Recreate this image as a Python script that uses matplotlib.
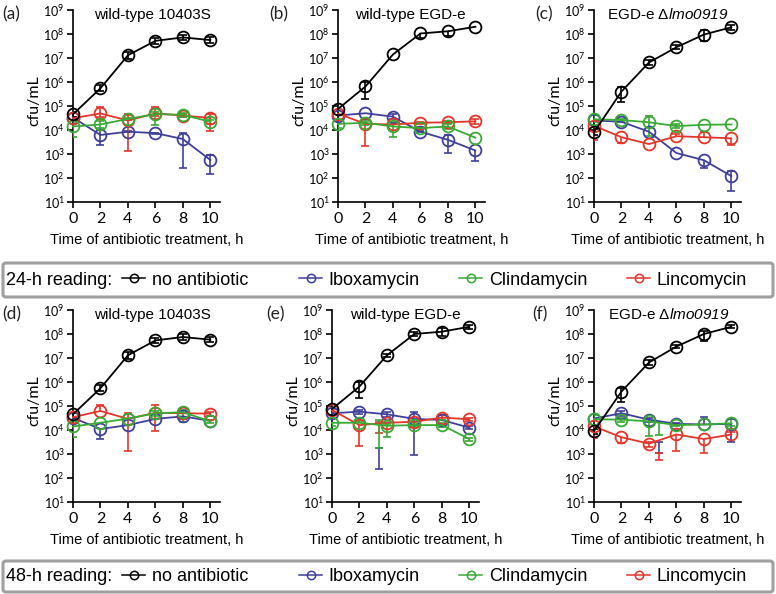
import matplotlib
matplotlib.use('Agg')
import matplotlib.pyplot as plt
from matplotlib.lines import Line2D
from matplotlib.patches import FancyBboxPatch
import numpy as np

plt.rcParams['mathtext.fontset'] = 'custom'
plt.rcParams['mathtext.rm'] = 'Liberation Sans'
plt.rcParams['mathtext.sf'] = 'Liberation Sans:italic'

hours = [0, 2, 4, 6, 8, 10]
strains = ['wild-type 10403S', 'wild-type EGD-e', 'EGD-e Δ$\\mathsf{lmo0919}$']
drugs = ['no antibiotic', 'Iboxamycin', 'Clindamycin', 'Lincomycin']
readings = ['24-h reading:', '48-h reading:']

# ---- 24-h, wild-type 10403S (a)
a_none = [4.5e4, 5.5e5, 1.3e7, 5.2e7, 7.2e7, 5.6e7]
a_none_lo = [3.5e4, 4.2e5, 9.5e6, 4.0e7, 5.5e7, 4.3e7]
a_none_hi = [5.8e4, 7.2e5, 1.7e7, 6.8e7, 9.4e7, 7.3e7]
a_ibox = [3.3e4, 6.2e3, 8.5e3, 7.4e3, 4.2e3, 5.6e2]
a_ibox_lo = [3.0e4, 2.3e3, 8.0e3, 7.0e3, 2.7e2, 1.5e2]
a_ibox_hi = [3.6e4, 1.0e4, 9.0e3, 7.8e3, 7.8e3, 9.0e2]
a_clin = [1.4e4, 1.7e4, 2.9e4, 4.6e4, 4.3e4, 2.2e4]
a_clin_lo = [5.0e3, 1.2e4, 2.6e4, 1.6e4, 3.5e4, 1.8e4]
a_clin_hi = [1.9e4, 2.4e4, 3.2e4, 5.6e4, 5.2e4, 2.6e4]
a_linc = [3.1e4, 4.9e4, 2.5e4, 4.9e4, 4.0e4, 3.2e4]
a_linc_lo = [2.6e4, 3.5e4, 1.3e3, 3.8e4, 3.5e4, 9.5e3]
a_linc_hi = [3.6e4, 9.3e4, 4.5e4, 9.0e4, 4.6e4, 4.6e4]

# ---- 24-h, wild-type EGD-e (b)
b_none = [7.5e4, 6.5e5, 1.4e7, 1.05e8, 1.3e8, 2.0e8]
b_none_lo = [7.5e4, 2.0e5, 1.4e7, 7.0e7, 8.0e7, 2.0e8]
b_none_hi = [7.5e4, 1.0e6, 1.4e7, 1.05e8, 1.3e8, 2.0e8]
b_ibox = [4.0e4, 5.0e4, 3.6e4, 8.5e3, 3.9e3, 1.4e3]
b_ibox_lo = [4.0e4, 5.0e4, 3.0e4, 8.0e3, 1.1e3, 5.0e2]
b_ibox_hi = [4.0e4, 5.0e4, 4.6e4, 9.0e3, 6.2e3, 1.4e3]
b_clin = [1.8e4, 2.0e4, 1.4e4, 1.2e4, 1.4e4, 4.8e3]
b_clin_lo = [1.2e4, 1.6e4, 5.2e3, 1.1e4, 1.1e4, 4.8e3]
b_clin_hi = [1.8e4, 2.4e4, 2.2e4, 1.3e4, 1.7e4, 4.8e3]
b_linc = [4.8e4, 1.8e4, 1.7e4, 2.0e4, 2.1e4, 2.3e4]
b_linc_lo = [4.8e4, 2.2e3, 1.7e4, 1.8e4, 1.9e4, 1.8e4]
b_linc_hi = [4.8e4, 1.8e4, 1.7e4, 2.2e4, 2.3e4, 2.9e4]

# ---- 24-h, EGD-e dlmo0919 (c)
c_none = [8.0e3, 4.0e5, 6.5e6, 2.8e7, 9.5e7, 1.9e8]
c_none_lo = [6.0e3, 1.5e5, 5.0e6, 2.3e7, 5.0e7, 1.5e8]
c_none_hi = [1.1e4, 6.0e5, 8.5e6, 3.4e7, 1.4e8, 2.4e8]
c_ibox = [2.5e4, 2.2e4, 8.5e3, 1.1e3, 5.5e2, 1.2e2]
c_ibox_lo = [2.5e4, 2.2e4, 8.5e3, 1.1e3, 2.6e2, 3.0e1]
c_ibox_hi = [2.5e4, 2.2e4, 8.5e3, 1.1e3, 5.5e2, 2.0e2]
c_clin = [2.8e4, 2.6e4, 2.1e4, 1.45e4, 1.65e4, 1.7e4]
c_clin_lo = [2.2e4, 2.2e4, 5.5e3, 1.2e4, 1.65e4, 1.7e4]
c_clin_hi = [4.2e4, 3.0e4, 3.8e4, 1.8e4, 1.65e4, 1.7e4]
c_linc = [1.5e4, 5.0e3, 2.6e3, 5.5e3, 5.0e3, 4.5e3]
c_linc_lo = [4.0e3, 2.8e3, 2.6e3, 5.5e3, 5.0e3, 2.4e3]
c_linc_hi = [1.5e4, 5.0e3, 2.6e3, 6.5e3, 8.0e3, 4.5e3]

# ---- 48-h, wild-type 10403S (d)
d_none = [4.5e4, 5.5e5, 1.3e7, 5.4e7, 7.5e7, 5.8e7]
d_none_lo = [3.5e4, 4.2e5, 9.5e6, 4.2e7, 5.8e7, 4.5e7]
d_none_hi = [5.8e4, 7.2e5, 1.7e7, 7.0e7, 9.7e7, 7.5e7]
d_ibox = [3.2e4, 1.1e4, 1.6e4, 2.9e4, 3.7e4, 2.4e4]
d_ibox_lo = [3.2e4, 4.2e3, 1.6e4, 2.9e4, 3.0e4, 2.4e4]
d_ibox_hi = [3.2e4, 1.1e4, 1.6e4, 2.9e4, 3.7e4, 2.4e4]
d_clin = [1.4e4, 2.0e4, 3.0e4, 5.0e4, 5.5e4, 2.3e4]
d_clin_lo = [5.0e3, 2.0e4, 3.0e4, 4.0e4, 2.2e4, 2.0e4]
d_clin_hi = [1.4e4, 2.0e4, 3.0e4, 6.0e4, 6.5e4, 2.6e4]
d_linc = [3.4e4, 6.2e4, 2.9e4, 5.2e4, 5.0e4, 4.8e4]
d_linc_lo = [3.4e4, 6.2e4, 1.3e3, 9.4e3, 5.0e4, 4.0e4]
d_linc_hi = [3.4e4, 1.1e5, 5.0e4, 1.1e5, 5.0e4, 5.6e4]

# ---- 48-h, wild-type EGD-e (e)
e_none = [7.5e4, 6.5e5, 1.3e7, 1.0e8, 1.25e8, 2.0e8]
e_none_lo = [7.5e4, 2.2e5, 1.1e7, 8.5e7, 8.0e7, 1.6e8]
e_none_hi = [7.5e4, 1.0e6, 1.5e7, 1.2e8, 1.7e8, 2.4e8]
e_ibox = [5.0e4, 5.8e4, 4.5e4, 2.9e4, 2.6e4, 1.25e4]
e_ibox_lo = [5.0e4, 4.5e4, 3.5e4, 9.0e2, 2.6e4, 1.1e4]
e_ibox_hi = [5.0e4, 7.0e4, 5.5e4, 5.5e4, 2.6e4, 1.4e4]
e_clin = [2.0e4, 2.0e4, 1.5e4, 1.6e4, 1.6e4, 4.2e3]
e_clin_lo = [1.4e4, 2.0e4, 5.2e3, 1.3e4, 1.3e4, 3.6e3]
e_clin_hi = [2.0e4, 2.4e4, 1.8e4, 1.9e4, 1.9e4, 4.8e3]
e_linc = [6.8e4, 1.6e4, 2.0e4, 2.2e4, 3.3e4, 2.8e4]
e_linc_lo = [5.0e4, 2.2e3, 2.0e4, 2.2e4, 2.6e4, 2.3e4]
e_linc_hi = [7.5e4, 1.6e4, 2.0e4, 2.2e4, 4.2e4, 3.3e4]
# error bars that sit off the time grid in the original (x, lo, hi)
e_ibox_extra = (3.4, 2.3e2, 1.8e3)
e_clin_extra = (3.4, 1.8e3, 2.6e4)
e_linc_extra = (3.4, 7.2e3, 2.2e4)

# ---- 48-h, EGD-e dlmo0919 (f)
f_none = [9.0e3, 4.0e5, 6.5e6, 3.0e7, 1.0e8, 2.0e8]
f_none_lo = [7.0e3, 1.5e5, 5.0e6, 2.5e7, 5.0e7, 1.7e8]
f_none_hi = [1.1e4, 5.5e5, 8.0e6, 3.5e7, 1.3e8, 2.4e8]
f_ibox = [3.0e4, 5.0e4, 2.7e4, 1.8e4, 1.7e4, 1.8e4]
f_ibox_lo = [3.0e4, 4.0e4, 2.2e4, 1.6e4, 1.7e4, 3.2e3]
f_ibox_hi = [3.0e4, 6.0e4, 3.2e4, 2.0e4, 3.5e4, 1.8e4]
f_clin = [2.8e4, 2.7e4, 2.3e4, 1.6e4, 1.7e4, 1.9e4]
f_clin_lo = [2.8e4, 2.2e4, 5.5e3, 1.4e4, 1.7e4, 1.4e4]
f_clin_hi = [4.2e4, 3.2e4, 2.3e4, 1.8e4, 1.7e4, 3.0e4]
f_linc = [1.4e4, 5.0e3, 2.7e3, 6.5e3, 4.2e3, 6.5e3]
f_linc_lo = [4.5e3, 3.0e3, 2.0e3, 1.3e3, 1.1e3, 6.5e3]
f_linc_hi = [1.4e4, 5.0e3, 3.3e3, 6.5e3, 4.2e3, 8.5e3]
f_ibox_extra = (4.75, 1.1e3, 3.2e3)
f_clin_extra = (4.75, 6.0e3, 2.2e4)
f_linc_extra = (4.75, 5.5e2, 1.1e3)

colors = ['black', '#3f3f9c', '#3aa935', '#e4352b']
draw_order = [1, 3, 2, 0]

panels = [
    ('(a)', [(a_none, a_none_lo, a_none_hi), (a_ibox, a_ibox_lo, a_ibox_hi),
             (a_clin, a_clin_lo, a_clin_hi), (a_linc, a_linc_lo, a_linc_hi)], {}),
    ('(b)', [(b_none, b_none_lo, b_none_hi), (b_ibox, b_ibox_lo, b_ibox_hi),
             (b_clin, b_clin_lo, b_clin_hi), (b_linc, b_linc_lo, b_linc_hi)], {}),
    ('(c)', [(c_none, c_none_lo, c_none_hi), (c_ibox, c_ibox_lo, c_ibox_hi),
             (c_clin, c_clin_lo, c_clin_hi), (c_linc, c_linc_lo, c_linc_hi)], {}),
    ('(d)', [(d_none, d_none_lo, d_none_hi), (d_ibox, d_ibox_lo, d_ibox_hi),
             (d_clin, d_clin_lo, d_clin_hi), (d_linc, d_linc_lo, d_linc_hi)], {}),
    ('(e)', [(e_none, e_none_lo, e_none_hi), (e_ibox, e_ibox_lo, e_ibox_hi),
             (e_clin, e_clin_lo, e_clin_hi), (e_linc, e_linc_lo, e_linc_hi)],
     {1: e_ibox_extra, 2: e_clin_extra, 3: e_linc_extra}),
    ('(f)', [(f_none, f_none_lo, f_none_hi), (f_ibox, f_ibox_lo, f_ibox_hi),
             (f_clin, f_clin_lo, f_clin_hi), (f_linc, f_linc_lo, f_linc_hi)],
     {1: f_ibox_extra, 2: f_clin_extra, 3: f_linc_extra}),
]

# layout in pixels of a 776x594 canvas
W, H = 776, 594
ax_left = [73, 338, 594, 73, 332, 594]
ax_top = [10, 10, 10, 310, 310, 310]
ax_w, ax_h = 147, 192
title_x = [0.54, 0.49, 0.50, 0.54, 0.50, 0.51]
label_x = [-0.48, -0.47, -0.40, -0.48, -0.45, -0.42]
legend_x = [122, 299, 459, 627]

fig = plt.figure(figsize=(W / 100, H / 100), dpi=100)


def errbar(ax, x, lo, hi, y, color):
    ax.vlines(x, lo, hi, color=color, lw=1.2, zorder=3)
    m = lo < y
    ax.plot(x[m], lo[m], '_', color=color, ms=6, mew=1.2, zorder=3)
    m = hi > y
    ax.plot(x[m], hi[m], '_', color=color, ms=6, mew=1.2, zorder=3)


for i, (lab, series, extra) in enumerate(panels):
    ax = fig.add_axes([ax_left[i] / W, 1 - (ax_top[i] + ax_h) / H, ax_w / W, ax_h / H])
    x = np.array(hours, float)
    for k in draw_order:
        y, lo, hi = (np.array(v, float) for v in series[k])
        z = 4 + draw_order.index(k)
        ax.plot(x, y, '-o', color=colors[k], mfc='none', ms=8.5, mew=1.3, lw=1.3,
                clip_on=False, zorder=z)
        errbar(ax, x, lo, hi, y, colors[k])
        if k in extra:
            ex, elo, ehi = extra[k]
            ax.vlines(ex, elo, ehi, color=colors[k], lw=1.2, zorder=3)
            ax.plot([ex, ex], [elo, ehi], '_', color=colors[k], ms=6, mew=1.2, zorder=3)
    ax.set_yscale('log')
    ax.set_ylim(10, 1e9)
    ax.set_xlim(0, 10.7)
    ax.set_yticks([10.0 ** p for p in range(1, 10)])
    ax.yaxis.set_minor_locator(matplotlib.ticker.NullLocator())
    ax.set_xticks(hours)
    for s in ['top', 'right']:
        ax.spines[s].set_visible(False)
    for s in ['left', 'bottom']:
        ax.spines[s].set_linewidth(1.2)
    ax.tick_params(width=1.2, length=4, direction='out')
    ax.tick_params(axis='x', labelsize=11.5, pad=3)
    ax.tick_params(axis='y', labelsize=9, pad=2)
    for t in ax.get_xticklabels() + ax.get_yticklabels():
        t.set_fontfamily('Lato')
    ax.set_ylabel('cfu/mL', fontsize=11.5, family='Lato')
    ax.yaxis.set_label_coords(-0.215, 0.53)
    ax.set_xlabel('Time of antibiotic treatment, h', fontsize=10.5,
                  family='Liberation Sans', labelpad=5)
    ax.text(title_x[i], 0.975, strains[i % 3], transform=ax.transAxes, ha='center',
            va='center', fontsize=11, family='Liberation Sans')
    ax.text(label_x[i], 0.975, lab, transform=ax.transAxes, ha='left', va='center',
            fontsize=12.5, family='Lato', color='#222222')

# legend boxes
handles = [Line2D([], [], color=c, marker='o', mfc='none', ms=6, mew=1.1, lw=1.1)
           for c in colors]
for r, (top, bot) in enumerate([(263, 297), (561, 592)]):
    yc = 1 - (top + bot) / 2 / H
    box = FancyBboxPatch((3 / W, 1 - bot / H), 770 / W, (bot - top) / H,
                         boxstyle='round,pad=0,rounding_size=0.004',
                         transform=fig.transFigure, fill=False,
                         edgecolor='#a0a0a0', lw=2.2)
    fig.patches.append(box)
    fig.text(6 / W, yc, readings[r], ha='left', va='center', fontsize=13,
             family='Liberation Sans')
    for j in range(4):
        fig.legend([handles[j]], [drugs[j]], loc='center left',
                   bbox_to_anchor=(legend_x[j] / W, yc), frameon=False,
                   handlelength=1.3, handletextpad=0.35, borderaxespad=0,
                   borderpad=0, prop={'family': 'Liberation Sans', 'size': 13})

fig.savefig('out.png', dpi=100)
